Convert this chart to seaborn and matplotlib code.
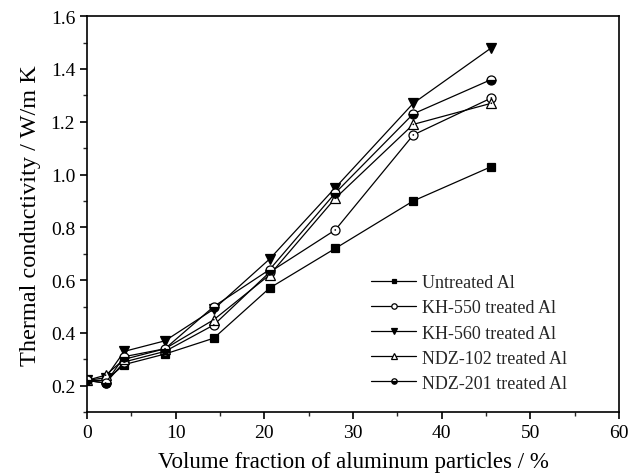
import matplotlib
matplotlib.use("Agg")
import matplotlib.pyplot as plt
from matplotlib.ticker import MultipleLocator
import seaborn as sns
import pandas as pd

volume_fraction = [0, 2.1, 4.2, 8.8, 14.3, 20.6, 28.0, 36.8, 45.6]
untreated = [0.22, 0.22, 0.28, 0.32, 0.38, 0.57, 0.72, 0.90, 1.03]
kh550 = [0.22, 0.21, 0.29, 0.33, 0.43, 0.63, 0.79, 1.15, 1.29]
kh560 = [0.22, 0.23, 0.33, 0.37, 0.49, 0.68, 0.95, 1.27, 1.48]
ndz102 = [0.22, 0.24, 0.30, 0.34, 0.45, 0.62, 0.91, 1.19, 1.27]
ndz201 = [0.22, 0.21, 0.31, 0.34, 0.50, 0.64, 0.93, 1.23, 1.36]
labels = ["Untreated Al", "KH-550 treated Al", "KH-560 treated Al",
          "NDZ-102 treated Al", "NDZ-201 treated Al"]

sns.set_theme(style="ticks")
plt.rcParams["font.family"] = ["Liberation Serif", "DejaVu Serif"]

fig = plt.figure(figsize=(6.28, 4.77), dpi=100)
ax = fig.add_axes([0.1385, 0.134, 0.8472, 0.830])

series = [untreated, kh550, kh560, ndz102, ndz201]
styles = [
    dict(marker="s", markersize=6, markerfacecolor="black"),
    dict(marker="o", markersize=6.5, markerfacecolor="white"),
    dict(marker="v", markersize=7.5, markerfacecolor="black"),
    dict(marker="^", markersize=7.5, markerfacecolor="white"),
    dict(marker="o", markersize=6.5, markerfacecolor="black", fillstyle="bottom",
         markerfacecoloralt="white"),
]
for vals, lab, st in zip(series, labels, styles):
    df = pd.DataFrame({"x": volume_fraction, "y": vals})
    sns.lineplot(data=df, x="x", y="y", ax=ax, color="black", linewidth=0.9,
                 markeredgecolor="black", markeredgewidth=0.9, label=lab, **st)

# small centre dots in the open circle / open triangle markers
for vals in (kh550, ndz102):
    sns.scatterplot(x=volume_fraction, y=vals, ax=ax, marker="o", s=1.5,
                    color="black", edgecolor="none", legend=False, zorder=5)

ax.set_xlim(0, 60)
ax.set_ylim(0.1, 1.6)
ax.xaxis.set_major_locator(MultipleLocator(10))
ax.xaxis.set_minor_locator(MultipleLocator(5))
ax.yaxis.set_minor_locator(MultipleLocator(0.1))
ax.set_yticks([0.2, 0.4, 0.6, 0.8, 1.0, 1.2, 1.4, 1.6])
ax.tick_params(which="major", direction="out", length=5, width=1.2, labelsize=14, colors="black")
ax.tick_params(which="minor", direction="out", length=3, width=1.0)
ax.tick_params(top=False, right=False)
for s in ax.spines.values():
    s.set_visible(True)
    s.set_color("black")
    s.set_linewidth(1.2)

ax.set_xlabel("Volume fraction of aluminum particles / %", fontsize=16.5, color="black", labelpad=7)
ax.set_ylabel("Thermal conductivity / W/m K", fontsize=17.5, color="black", labelpad=7)

leg = ax.legend(loc="upper left", bbox_to_anchor=(0.534, 0.348), frameon=False,
                fontsize=13, markerscale=0.6, handlelength=2.5, handletextpad=0.33,
                labelspacing=0.45, borderpad=0, borderaxespad=0)

fig.savefig("out.png", dpi=100)
